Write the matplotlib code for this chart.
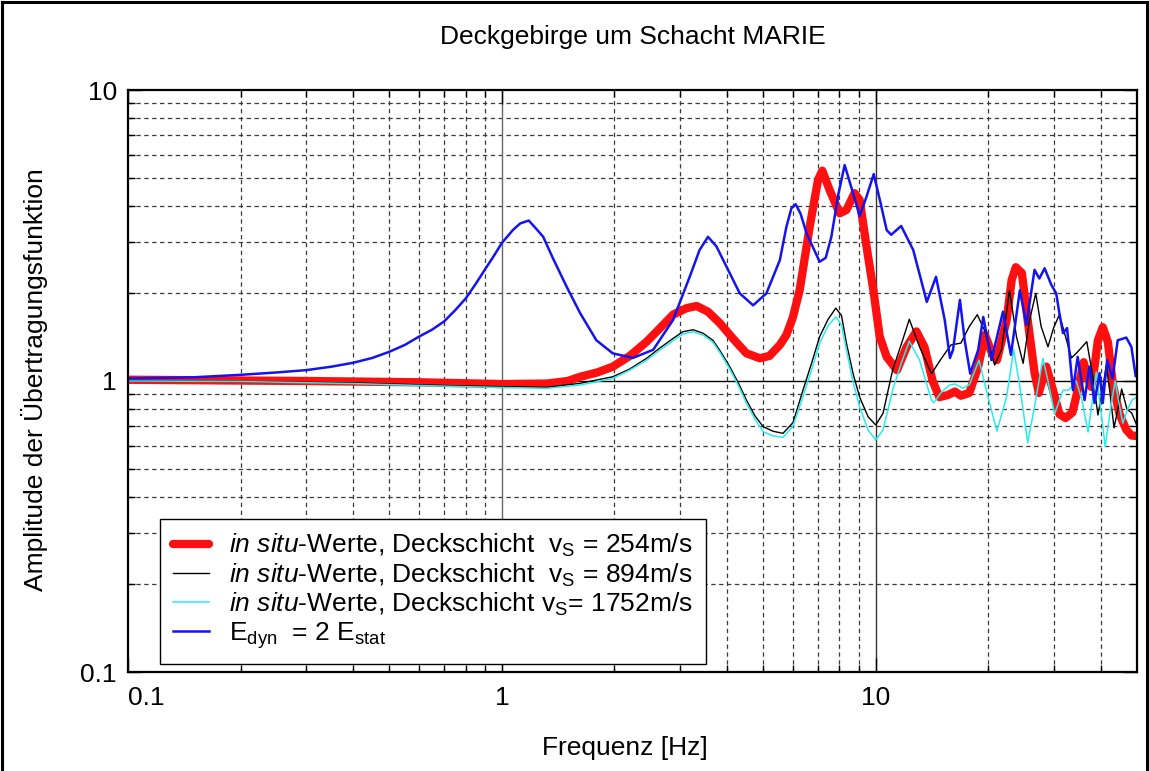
import matplotlib
matplotlib.use('Agg')
import matplotlib.pyplot as plt
from matplotlib.lines import Line2D
from matplotlib.ticker import FixedLocator, FixedFormatter, NullFormatter

plt.rcParams['font.family'] = ['Liberation Sans', 'DejaVu Sans']
plt.rcParams['mathtext.fontset'] = 'custom'
plt.rcParams['mathtext.rm'] = 'Liberation Sans'
plt.rcParams['mathtext.it'] = 'Liberation Sans:italic'
plt.rcParams['mathtext.bf'] = 'Liberation Sans:bold'

title = 'Deckgebirge um Schacht MARIE'
x_label = 'Frequenz [Hz]'
y_label = 'Amplitude der Übertragungsfunktion'
x_ticks = [0.1, 1, 10]
x_tick_labels = ['0.1', '1', '10']
y_ticks = [0.1, 1, 10]
y_tick_labels = ['0.1', '1', '10']
x_minor = [0.2, 0.3, 0.4, 0.5, 0.6, 0.7, 0.8, 0.9, 2, 3, 4, 5, 6, 7, 8, 9, 20, 30, 40]
y_minor = [0.2, 0.3, 0.4, 0.5, 0.6, 0.7, 0.8, 0.9, 2, 3, 4, 5, 6, 7, 8, 9]

labels = [
    r'$\it{in\ situ}$-Werte, Deckschicht  $\mathregular{v_S}$ = 254m/s',
    r'$\it{in\ situ}$-Werte, Deckschicht  $\mathregular{v_S}$ = 894m/s',
    r'$\it{in\ situ}$-Werte, Deckschicht $\mathregular{v_S}$= 1752m/s',
    r'$\mathregular{E_{dyn}}$  = 2 $\mathregular{E_{stat}}$',
]

# red: in situ, vs = 254 m/s
red_f = [0.100, 0.300, 0.600, 1.00, 1.32, 1.50, 1.62, 1.80, 1.98, 2.20, 2.44, 2.65, 2.87, 3.12,
         3.32, 3.56, 3.83, 4.15, 4.51, 4.90, 5.20, 5.54, 5.77, 6.00, 6.26, 6.66, 7.01, 7.20,
         7.53, 8.01, 8.35, 8.78, 9.06, 9.44, 9.86, 10.25, 10.7, 11.4, 12.1, 12.85, 13.5, 14.2,
         14.8, 15.6, 16.3, 16.9, 17.8, 18.8, 19.6, 20.4, 21.1, 22.4, 23.1, 23.7, 24.6, 25.5,
         26.6, 27.3, 28.6, 29.8, 31.0, 32.2, 33.6, 34.7, 36.0, 37.0, 37.7, 38.5, 39.3, 40.5,
         41.8, 43.1, 44.9, 46.8, 48.3, 50.0]
red_a = [1.01, 1.00, 0.99, 0.976, 0.98, 1.00, 1.034, 1.07, 1.12, 1.22, 1.365, 1.52, 1.69, 1.78,
         1.81, 1.73, 1.58, 1.40, 1.245, 1.197, 1.22, 1.33, 1.44, 1.65, 2.05, 3.39, 4.91, 5.28,
         4.53, 3.77, 3.87, 4.42, 4.19, 2.93, 2.05, 1.42, 1.21, 1.09, 1.31, 1.48, 1.31, 1.00,
         0.88, 0.895, 0.92, 0.89, 0.91, 1.12, 1.44, 1.26, 1.18, 1.62, 2.22, 2.46, 2.35, 1.62,
         1.07, 0.91, 1.12, 0.93, 0.77, 0.746, 0.78, 0.93, 1.16, 1.02, 0.955, 1.12, 1.38, 1.53,
         1.36, 0.97, 0.77, 0.68, 0.65, 0.647]

# black: in situ, vs = 894 m/s
black_f = [0.100, 0.200, 0.400, 0.700, 1.01, 1.32, 1.62, 1.98, 2.20, 2.44, 2.65, 2.87, 3.05,
           3.25, 3.45, 3.67, 3.85, 4.07, 4.30, 4.51, 4.75, 5.00, 5.31, 5.65, 6.01, 6.39, 6.75,
           7.08, 7.46, 7.82, 8.10, 8.35, 8.70, 9.06, 9.54, 10.0, 10.46, 11.1, 11.8, 12.3, 13.1,
           14.1, 15.0, 15.9, 16.9, 17.8, 18.7, 19.6, 20.8, 21.7, 22.8, 23.8, 24.8, 25.8, 26.8,
           27.7, 28.9, 29.9, 31.0, 32.0, 33.4, 34.7, 36.7, 38.1, 39.3, 40.2, 41.4, 42.4, 43.4,
           44.4, 45.5, 47.0, 48.4, 49.9]
black_a = [1.00, 0.996, 0.985, 0.965, 0.956, 0.951, 0.982, 1.034, 1.10, 1.197, 1.30, 1.40, 1.477,
           1.50, 1.46, 1.38, 1.26, 1.12, 0.98, 0.86, 0.76, 0.697, 0.672, 0.661, 0.72, 0.93, 1.16,
           1.42, 1.63, 1.78, 1.68, 1.35, 1.06, 0.88, 0.754, 0.706, 0.774, 1.09, 1.38, 1.63, 1.31,
           1.06, 1.197, 1.33, 1.35, 1.54, 1.69, 1.48, 1.135, 1.28, 2.05, 1.42, 1.15, 1.62, 2.00,
           1.54, 1.31, 1.52, 1.69, 1.46, 1.20, 1.26, 1.365, 1.034, 0.764, 0.895, 1.135, 0.895,
           0.69, 0.795, 0.939, 0.80, 0.776, 0.706]

# cyan: in situ, vs = 1752 m/s
cyan_f = [0.100, 0.200, 0.400, 0.700, 1.00, 1.32, 1.62, 1.98, 2.20, 2.44, 2.65, 2.87, 3.05,
          3.25, 3.45, 3.67, 3.85, 4.07, 4.30, 4.51, 4.75, 5.00, 5.31, 5.65, 6.01, 6.39, 6.75,
          7.08, 7.46, 7.82, 8.10, 8.35, 8.70, 9.06, 9.54, 10.0, 10.46, 11.1, 11.7, 12.3, 13.1,
          14.1, 14.3, 15.0, 15.8, 16.3, 17.1, 17.8, 18.9, 20.0, 21.1, 22.4, 23.4, 24.3, 25.5,
          26.6, 28.0, 28.9, 30.1, 31.7, 32.8, 34.4, 35.6, 37.0, 38.9, 41.1, 42.7, 43.7, 44.6,
          45.8, 47.1, 48.5, 49.9]
cyan_a = [1.00, 0.996, 0.98, 0.96, 0.95, 0.944, 0.969, 1.02, 1.09, 1.18, 1.28, 1.375, 1.45,
          1.477, 1.44, 1.36, 1.24, 1.10, 0.96, 0.84, 0.74, 0.67, 0.648, 0.64, 0.70, 0.883, 1.10,
          1.35, 1.55, 1.66, 1.56, 1.28, 0.99, 0.816, 0.679, 0.627, 0.679, 0.93, 1.15, 1.37, 1.18,
          0.86, 0.842, 0.917, 0.97, 0.976, 0.944, 0.97, 1.18, 0.874, 0.673, 0.883, 1.28, 0.956,
          0.614, 0.816, 1.197, 1.00, 0.77, 0.93, 0.93, 1.00, 0.86, 0.668, 1.074, 0.595, 0.838,
          1.00, 0.86, 0.716, 0.795, 0.86, 0.88]

# blue: E_dyn = 2 E_stat
blue_f = [0.100, 0.150, 0.200, 0.250, 0.300, 0.350, 0.400, 0.450, 0.500, 0.550, 0.600, 0.650,
          0.700, 0.750, 0.800, 0.850, 0.900, 0.950, 1.00, 1.07, 1.12, 1.18, 1.24, 1.29, 1.37,
          1.49, 1.62, 1.79, 1.98, 2.24, 2.54, 2.87, 3.18, 3.38, 3.56, 3.75, 3.99, 4.33, 4.70,
          5.10, 5.54, 5.77, 5.95, 6.11, 6.30, 6.53, 7.08, 7.35, 7.61, 7.95, 8.26, 8.70, 9.06,
          9.45, 9.88, 10.3, 10.7, 11.0, 11.7, 12.6, 13.7, 14.5, 15.3, 15.8, 16.1, 16.8, 17.3,
          17.9, 18.8, 19.4, 20.4, 21.9, 23.0, 24.3, 25.3, 26.6, 27.4, 28.3, 29.5, 30.4, 31.0,
          31.7, 32.5, 33.7, 34.7, 36.2, 37.3, 38.5, 39.7, 40.5, 41.6, 43.0, 44.4, 46.8, 48.3, 49.6]
blue_a = [1.02, 1.03, 1.05, 1.07, 1.09, 1.12, 1.155, 1.20, 1.26, 1.33, 1.42, 1.50, 1.60, 1.75,
          1.92, 2.15, 2.41, 2.68, 2.98, 3.30, 3.48, 3.56, 3.32, 3.13, 2.64, 2.11, 1.71, 1.38,
          1.245, 1.20, 1.28, 1.62, 2.28, 2.82, 3.13, 2.90, 2.47, 2.00, 1.82, 2.00, 2.60, 3.39,
          3.92, 4.05, 3.75, 3.22, 2.57, 2.65, 3.13, 4.40, 5.52, 4.42, 3.69, 4.30, 5.14, 4.10,
          3.30, 3.18, 3.41, 2.82, 1.87, 2.28, 1.62, 1.20, 1.28, 1.90, 1.38, 1.06, 1.28, 1.66,
          1.18, 1.73, 1.23, 2.05, 1.56, 2.41, 2.25, 2.44, 2.14, 2.00, 1.71, 1.46, 1.52, 0.93,
          1.21, 0.86, 1.12, 0.84, 1.065, 0.84, 1.18, 1.02, 1.38, 1.41, 1.31, 1.04]

W, H = 1149, 771
fig = plt.figure(figsize=(W / 100, H / 100), dpi=100)
ax = fig.add_axes([128 / W, 99 / H, 1009 / W, 582 / H])
ax.set_xscale('log')
ax.set_yscale('log')
ax.set_xlim(0.1, 50)
ax.set_ylim(0.1, 10)

# grid
for v in x_minor:
    ax.axvline(v, color='#3a3a3a', lw=0.9, ls=(0, (3.5, 2.8)), zorder=0.5)
for v in y_minor:
    ax.axhline(v, color='#3a3a3a', lw=0.9, ls=(0, (3.5, 2.8)), zorder=0.5)
ax.axvline(1, color='#666666', lw=1.0, zorder=0.6)
ax.axvline(10, color='#333333', lw=1.0, zorder=0.6)
ax.axhline(1, color='black', lw=1.0, zorder=0.6)

l_red, = ax.plot(red_f, red_a, color='#ff1010', lw=6.0, solid_capstyle='round',
                 solid_joinstyle='round', zorder=2)
l_black, = ax.plot(black_f, black_a, color='black', lw=1.0, zorder=3)
l_cyan, = ax.plot(cyan_f, cyan_a, color='#28ecec', lw=1.1, zorder=3.2)
l_blue, = ax.plot(blue_f, blue_a, color='#1414f0', lw=1.8, zorder=3.5)

ax.xaxis.set_major_locator(FixedLocator(x_ticks))
ax.xaxis.set_major_formatter(FixedFormatter(x_tick_labels))
ax.yaxis.set_major_locator(FixedLocator(y_ticks))
ax.yaxis.set_major_formatter(FixedFormatter(y_tick_labels))
ax.xaxis.set_minor_locator(FixedLocator(x_minor))
ax.xaxis.set_minor_formatter(NullFormatter())
ax.yaxis.set_minor_locator(FixedLocator(y_minor))
ax.yaxis.set_minor_formatter(NullFormatter())
ax.tick_params(which='both', direction='in', top=True, right=True, labelsize=19, width=1)
ax.tick_params(which='major', length=10)
ax.tick_params(which='minor', length=5)
ax.tick_params(axis='x', pad=10)
ax.tick_params(axis='y', pad=8)
ax.get_xticklabels()[0].set_horizontalalignment('left')
for s in ax.spines.values():
    s.set_linewidth(1.6)
    s.set_zorder(6)

leg = ax.legend([l_red, l_black, l_cyan, l_blue], labels, loc='lower left',
                bbox_to_anchor=(0.032, 0.014), fontsize=19, frameon=True, fancybox=False,
                edgecolor='black', framealpha=1, borderpad=0.5, labelspacing=0.08,
                handlelength=1.35, handletextpad=0.75, borderaxespad=0)
leg.get_frame().set_linewidth(1.0)

fig.text(633 / W, 1 - 37 / H, title, ha='center', va='center', fontsize=19)
fig.text(625 / W, 1 - 748 / H, x_label, ha='center', va='center', fontsize=19)
fig.text(35 / W, 1 - 380 / H, y_label, ha='center', va='center', rotation=90, fontsize=19)

# figure border (left, top, right)
for xs, ys in [((0.002, 0.002), (0.0, 0.998)), ((0.002, 0.998), (0.998, 0.998)),
               ((0.998, 0.998), (0.0, 0.998))]:
    fig.add_artist(Line2D(xs, ys, transform=fig.transFigure, color='black', lw=2.2))

fig.savefig('out.png', dpi=100)
